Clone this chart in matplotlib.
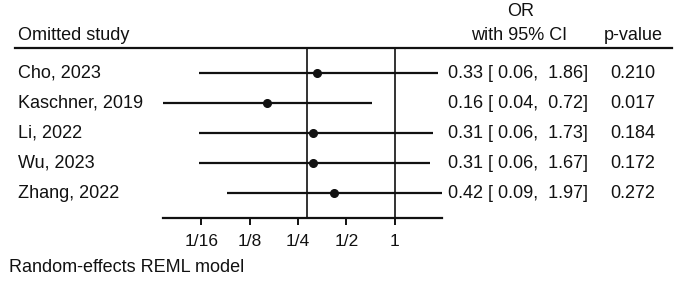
import matplotlib
matplotlib.use("Agg")
import matplotlib.pyplot as plt
import matplotlib.transforms as mtransforms
from matplotlib.lines import Line2D

plt.rcParams['font.family'] = ['Liberation Sans', 'DejaVu Sans']

# leave-one-out results
studies = ["Cho, 2023", "Kaschner, 2019", "Li, 2022", "Wu, 2023", "Zhang, 2022"]
or_est = [0.33, 0.16, 0.31, 0.31, 0.42]
ci_low = [0.06, 0.036, 0.06, 0.06, 0.09]
ci_high = [1.86, 0.72, 1.73, 1.67, 1.97]
p_values = [0.210, 0.017, 0.184, 0.172, 0.272]
overall = 0.285

tick_vals = [1/16, 1/8, 1/4, 1/2, 1]
tick_labels = ["1/16", "1/8", "1/4", "1/2", "1"]

W, H = 680, 283
ink = "#111111"
fs = 13

fig = plt.figure(figsize=(W / 100, H / 100), dpi=100)
ax = fig.add_axes([163 / W, (H - 218.3) / H, (442 - 163) / W, (218.3 - 47.7) / H])

rows = list(range(1, len(studies) + 1))
ax.set_xscale("log", base=2)
ax.set_xlim(min(ci_low), max(ci_high))
ax.set_ylim(5.83, 0.15)

# reference lines: overall effect and no effect
ax.axvline(overall, color=ink, lw=1.2)
ax.axvline(1, color=ink, lw=1.2)

ax.hlines(rows, ci_low, ci_high, color=ink, lw=1.6)
ax.plot(or_est, rows, "o", color=ink, ms=5.5, ls="none")

for s in ["left", "right", "top"]:
    ax.spines[s].set_visible(False)
ax.spines["bottom"].set_linewidth(1.6)
ax.spines["bottom"].set_color(ink)
ax.set_yticks([])
ax.set_xticks(tick_vals)
ax.set_xticklabels(tick_labels)
ax.minorticks_off()
ax.tick_params(axis="x", length=5, width=1.4, color=ink, pad=6, labelsize=12.5, labelcolor=ink)

# text columns
trans = mtransforms.blended_transform_factory(fig.transFigure, ax.transData)
for r, name, o, lo, hi, p in zip(rows, studies, or_est, ci_low, ci_high, p_values):
    ax.text(18 / W, r, name, transform=trans, ha="left", va="center", fontsize=fs, color=ink)
    ax.text(448 / W, r, f"{o:.2f} [{lo:5.2f}, {hi:5.2f}]", transform=trans,
            ha="left", va="center", fontsize=fs, color=ink)
    ax.text(610 / W, r, f"{p:.3f}", transform=trans, ha="left", va="center", fontsize=fs, color=ink)

# header
fig.text(18 / W, 1 - 35 / H, "Omitted study", ha="left", va="center", fontsize=fs, color=ink)
fig.text(521 / W, 1 - 12 / H, "OR", ha="center", va="center", fontsize=fs, color=ink)
fig.text(519 / W, 1 - 35 / H, "with 95% CI", ha="center", va="center", fontsize=fs, color=ink)
fig.text(604 / W, 1 - 35 / H, "p-value", ha="left", va="center", fontsize=fs, color=ink)
fig.add_artist(Line2D([15 / W, 672 / W], [1 - 47.7 / H, 1 - 47.7 / H],
                      transform=fig.transFigure, color=ink, lw=1.6))

fig.text(9 / W, 1 - 268 / H, "Random-effects REML model", ha="left", va="center", fontsize=fs, color=ink)

fig.savefig("out.png", dpi=100, facecolor="white")
